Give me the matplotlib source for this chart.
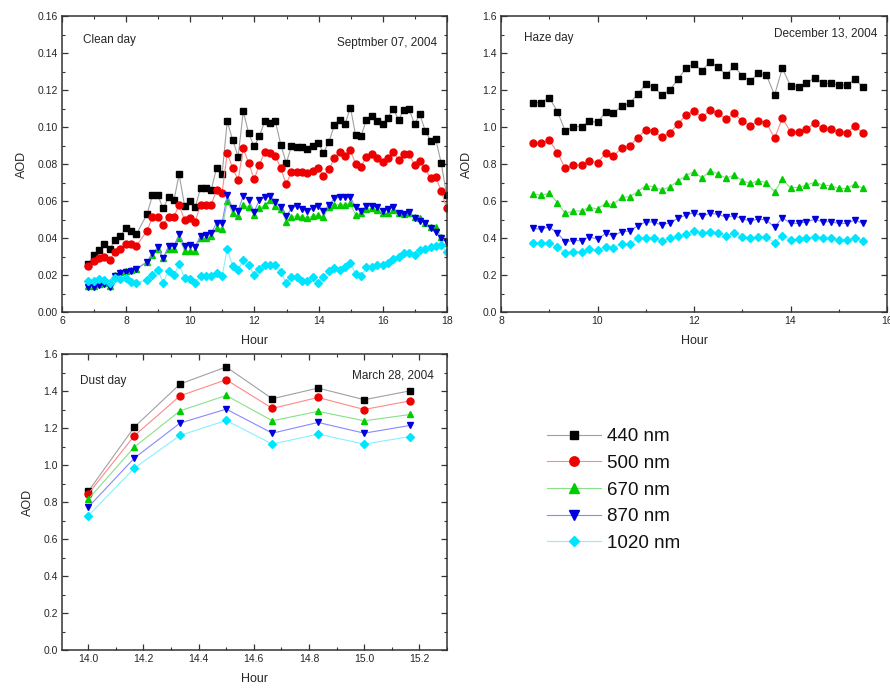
import matplotlib
matplotlib.use("Agg")
import matplotlib.pyplot as plt
from matplotlib.ticker import MultipleLocator, FormatStrFormatter

plt.rcParams['font.family'] = ['Liberation Sans', 'DejaVu Sans']

wavelengths = ['440 nm', '500 nm', '670 nm', '870 nm', '1020 nm']

# ---- Clean day (Sept 07, 2004) ----
clean_hours = [6.82, 6.99, 7.15, 7.32, 7.49, 7.65, 7.82, 7.99, 8.15, 8.32,
               8.65, 8.82, 8.99, 9.15, 9.32, 9.49, 9.65, 9.82, 9.99, 10.15,
               10.32, 10.49, 10.65, 10.82, 10.99, 11.15, 11.32, 11.49, 11.65, 11.82,
               11.99, 12.15, 12.32, 12.49, 12.65, 12.82, 12.99, 13.15, 13.32, 13.49,
               13.65, 13.82, 13.99, 14.15, 14.32, 14.49, 14.65, 14.82, 14.99, 15.15,
               15.32, 15.49, 15.65, 15.82, 15.99, 16.15, 16.32, 16.49, 16.65, 16.82,
               16.99, 17.15, 17.32, 17.49, 17.65, 17.82, 17.99]
clean_440 = [0.026, 0.031, 0.0335, 0.037, 0.034, 0.039, 0.041, 0.0455, 0.044, 0.042,
             0.053, 0.063, 0.063, 0.056, 0.062, 0.0605, 0.0745, 0.0575, 0.060, 0.0565,
             0.067, 0.067, 0.066, 0.078, 0.0745, 0.103, 0.093, 0.084, 0.1085, 0.0965,
             0.0895, 0.095, 0.103, 0.102, 0.103, 0.0905, 0.0805, 0.0895, 0.089, 0.089,
             0.088, 0.090, 0.0915, 0.086, 0.092, 0.101, 0.104, 0.1015, 0.1105, 0.0957,
             0.095, 0.104, 0.106, 0.103, 0.1015, 0.1047, 0.110, 0.104, 0.109, 0.1095,
             0.1015, 0.107, 0.098, 0.0926, 0.0933, 0.0805, 0.063]
clean_500 = [0.025, 0.0277, 0.029, 0.030, 0.028, 0.0326, 0.0339, 0.037, 0.037, 0.0357,
             0.044, 0.0512, 0.0512, 0.047, 0.0515, 0.0515, 0.058, 0.0497, 0.0506, 0.0488,
             0.0578, 0.0578, 0.058, 0.066, 0.0645, 0.0858, 0.0777, 0.0714, 0.0885, 0.0804,
             0.0717, 0.0795, 0.0867, 0.0858, 0.0845, 0.0777, 0.069, 0.0759, 0.0759, 0.0755,
             0.075, 0.0764, 0.0777, 0.0735, 0.0771, 0.0831, 0.0867, 0.0843, 0.0876, 0.080,
             0.0786, 0.084, 0.0852, 0.083, 0.0813, 0.083, 0.0867, 0.0822, 0.0852, 0.0852,
             0.0795, 0.0816, 0.0777, 0.0723, 0.0728, 0.0654, 0.056]
clean_670 = [0.014, 0.0138, 0.015, 0.0155, 0.014, 0.020, 0.0215, 0.022, 0.0225, 0.0235,
             0.027, 0.031, 0.034, 0.029, 0.034, 0.034, 0.040, 0.033, 0.033, 0.033,
             0.040, 0.040, 0.041, 0.0455, 0.045, 0.060, 0.0533, 0.0519, 0.0578, 0.0566,
             0.0524, 0.056, 0.0578, 0.0605, 0.0573, 0.0555, 0.0488, 0.0515, 0.052, 0.0515,
             0.0506, 0.052, 0.0525, 0.0512, 0.0568, 0.058, 0.058, 0.058, 0.0587, 0.0524,
             0.0533, 0.0555, 0.056, 0.0551, 0.0537, 0.0533, 0.0551, 0.0537, 0.053, 0.0537,
             0.0515, 0.0506, 0.0483, 0.0458, 0.0461, 0.0407, 0.0371]
clean_870 = [0.0137, 0.0133, 0.0146, 0.015, 0.0133, 0.0195, 0.0209, 0.0218, 0.0222, 0.023,
             0.0272, 0.0317, 0.035, 0.029, 0.0357, 0.0357, 0.042, 0.0357, 0.0362, 0.0353,
             0.0413, 0.0416, 0.0425, 0.0483, 0.0483, 0.0632, 0.056, 0.0548, 0.0627, 0.0605,
             0.0542, 0.0605, 0.062, 0.0627, 0.0596, 0.0566, 0.0519, 0.056, 0.0575, 0.0555,
             0.0545, 0.056, 0.0573, 0.0544, 0.058, 0.0614, 0.062, 0.062, 0.062, 0.0566,
             0.0548, 0.0573, 0.0573, 0.0566, 0.0548, 0.0555, 0.0566, 0.0533, 0.053, 0.0542,
             0.0506, 0.0493, 0.0483, 0.0452, 0.0434, 0.0398, 0.038]
clean_1020 = [0.0169, 0.0169, 0.0177, 0.0173, 0.0159, 0.0182, 0.0177, 0.0182, 0.0164, 0.0159,
              0.0173, 0.020, 0.0227, 0.0159, 0.0222, 0.020, 0.026, 0.0182, 0.0177, 0.0159,
              0.0195, 0.0195, 0.0195, 0.0213, 0.0195, 0.0339, 0.0249, 0.0227, 0.0281, 0.0254,
              0.020, 0.023, 0.0254, 0.0254, 0.0254, 0.0218, 0.0155, 0.0191, 0.0191, 0.0169,
              0.0168, 0.0191, 0.0155, 0.0191, 0.0223, 0.0236, 0.0227, 0.0245, 0.0263, 0.0205,
              0.0195, 0.0241, 0.0245, 0.0254, 0.0255, 0.0265, 0.0285, 0.030, 0.0317, 0.032,
              0.031, 0.0335, 0.034, 0.0353, 0.0355, 0.036, 0.0326]

# ---- Haze day (Dec 13, 2004) ----
haze_hours = [8.67, 8.83, 9.00, 9.17, 9.33, 9.50, 9.67, 9.83, 10.00, 10.17,
              10.33, 10.50, 10.67, 10.83, 11.00, 11.17, 11.33, 11.50, 11.67, 11.83,
              12.00, 12.17, 12.33, 12.50, 12.67, 12.83, 13.00, 13.17, 13.33, 13.50,
              13.67, 13.83, 14.00, 14.17, 14.33, 14.50, 14.67, 14.83, 15.00, 15.17,
              15.33, 15.50]
haze_440 = [1.132, 1.132, 1.159, 1.083, 0.978, 1.002, 1.002, 1.032, 1.025, 1.083,
            1.074, 1.114, 1.128, 1.178, 1.231, 1.218, 1.173, 1.200, 1.258, 1.317,
            1.341, 1.305, 1.353, 1.323, 1.281, 1.330, 1.276, 1.249, 1.290, 1.281,
            1.173, 1.317, 1.223, 1.218, 1.236, 1.267, 1.236, 1.236, 1.227, 1.227,
            1.258, 1.218]
haze_500 = [0.912, 0.912, 0.930, 0.861, 0.777, 0.795, 0.795, 0.816, 0.807, 0.858,
            0.845, 0.885, 0.897, 0.942, 0.984, 0.978, 0.944, 0.969, 1.016, 1.065,
            1.086, 1.052, 1.092, 1.074, 1.043, 1.074, 1.032, 1.005, 1.034, 1.023,
            0.939, 1.047, 0.975, 0.975, 0.989, 1.020, 0.993, 0.989, 0.975, 0.969,
            1.005, 0.969]
haze_670 = [0.638, 0.632, 0.641, 0.591, 0.533, 0.546, 0.546, 0.566, 0.557, 0.587,
            0.582, 0.620, 0.623, 0.650, 0.683, 0.677, 0.659, 0.677, 0.708, 0.737,
            0.759, 0.723, 0.764, 0.746, 0.723, 0.741, 0.710, 0.695, 0.710, 0.699,
            0.650, 0.717, 0.672, 0.674, 0.686, 0.701, 0.686, 0.683, 0.668, 0.668,
            0.692, 0.668]
haze_870 = [0.452, 0.447, 0.461, 0.425, 0.380, 0.386, 0.386, 0.407, 0.393, 0.425,
            0.413, 0.434, 0.438, 0.465, 0.488, 0.485, 0.470, 0.483, 0.506, 0.524,
            0.537, 0.519, 0.533, 0.528, 0.512, 0.521, 0.503, 0.492, 0.503, 0.497,
            0.458, 0.510, 0.479, 0.479, 0.488, 0.501, 0.488, 0.488, 0.479, 0.479,
            0.497, 0.479]
haze_1020 = [0.371, 0.371, 0.375, 0.350, 0.321, 0.326, 0.326, 0.339, 0.335, 0.353,
             0.348, 0.366, 0.366, 0.398, 0.402, 0.402, 0.384, 0.398, 0.411, 0.422,
             0.438, 0.425, 0.434, 0.429, 0.413, 0.425, 0.407, 0.402, 0.404, 0.404,
             0.375, 0.413, 0.389, 0.393, 0.398, 0.407, 0.398, 0.398, 0.389, 0.389,
             0.398, 0.386]

# ---- Dust day (Mar 28, 2004) ----
dust_hours = [14.0, 14.167, 14.333, 14.5, 14.667, 14.833, 15.0, 15.167]
dust_440 = [0.857, 1.205, 1.438, 1.530, 1.358, 1.416, 1.353, 1.401]
dust_500 = [0.844, 1.158, 1.374, 1.461, 1.306, 1.365, 1.300, 1.347]
dust_670 = [0.815, 1.097, 1.293, 1.376, 1.239, 1.290, 1.239, 1.273]
dust_870 = [0.772, 1.037, 1.227, 1.302, 1.172, 1.230, 1.172, 1.214]
dust_1020 = [0.725, 0.983, 1.160, 1.241, 1.113, 1.167, 1.113, 1.154]

marker_colors = ['#000000', '#ee0000', '#00cc00', '#0000dd', '#00e5ff']
line_colors = ['#a0a0a0', '#ff8888', '#88e088', '#8888ff', '#88f0ff']
markers = ['s', 'o', '^', 'v', 'D']
msizes = [4.4, 5.0, 5.0, 5.0, 3.9]

TXT = '#262626'

fig = plt.figure(figsize=(8.9, 6.9), dpi=100)
ax1 = fig.add_axes([62/890, 1-312/690, 385/890, 296/690])
ax2 = fig.add_axes([501/890, 1-312/690, 386/890, 296/690])
ax3 = fig.add_axes([62/890, 1-650/690, 385/890, 296/690])

def draw(ax, hours, series):
    handles = []
    for s, mc, lc, mk, ms, lab in zip(series, marker_colors, line_colors, markers, msizes, wavelengths):
        h, = ax.plot(hours, s, color=lc, lw=0.8, marker=mk, ms=ms,
                     mfc=mc, mec=mc, label=lab)
        handles.append(h)
    return handles

def style(ax, xlim, ylim, xmaj, xmin, ymaj, ymin, xfmt, yfmt):
    ax.set_xlim(*xlim)
    ax.set_ylim(*ylim)
    ax.xaxis.set_major_locator(MultipleLocator(xmaj))
    ax.xaxis.set_minor_locator(MultipleLocator(xmin))
    ax.yaxis.set_major_locator(MultipleLocator(ymaj))
    ax.yaxis.set_minor_locator(MultipleLocator(ymin))
    ax.xaxis.set_major_formatter(FormatStrFormatter(xfmt))
    ax.yaxis.set_major_formatter(FormatStrFormatter(yfmt))
    ax.tick_params(which='both', direction='in', top=True, right=True,
                   colors='#333333', labelsize=7.5, labelcolor=TXT, pad=3)
    ax.tick_params(which='major', length=4, width=0.9)
    ax.tick_params(which='minor', length=2.2, width=0.8)
    for sp in ax.spines.values():
        sp.set_linewidth(1.1)
        sp.set_color('#333333')
    ax.set_xlabel('Hour', fontsize=9, color=TXT, labelpad=6)
    ax.set_ylabel('AOD', fontsize=9, color=TXT, labelpad=7)

draw(ax1, clean_hours, [clean_440, clean_500, clean_670, clean_870, clean_1020])
style(ax1, (6, 18), (0, 0.16), 2, 1, 0.02, 0.01, '%d', '%.2f')
ax1.text(0.055, 0.92, 'Clean day', transform=ax1.transAxes, fontsize=8.5, color=TXT, va='center')
ax1.text(0.974, 0.91, 'Septmber 07, 2004', transform=ax1.transAxes, fontsize=8.5, color=TXT,
         va='center', ha='right')

draw(ax2, haze_hours, [haze_440, haze_500, haze_670, haze_870, haze_1020])
style(ax2, (8, 16), (0, 1.6), 2, 1, 0.2, 0.1, '%d', '%.1f')
ax2.text(0.06, 0.925, 'Haze day', transform=ax2.transAxes, fontsize=8.5, color=TXT, va='center')
ax2.text(0.974, 0.94, 'December 13, 2004', transform=ax2.transAxes, fontsize=8.5, color=TXT,
         va='center', ha='right')

handles = draw(ax3, dust_hours, [dust_440, dust_500, dust_670, dust_870, dust_1020])
style(ax3, (13.905, 15.3), (0, 1.6), 0.2, 0.1, 0.2, 0.1, '%.1f', '%.1f')
ax3.text(0.047, 0.909, 'Dust day', transform=ax3.transAxes, fontsize=8.5, color=TXT, va='center')
ax3.text(0.966, 0.929, 'March 28, 2004', transform=ax3.transAxes, fontsize=8.5, color=TXT,
         va='center', ha='right')

leg = fig.legend(handles=handles, loc='upper left', bbox_to_anchor=(547/890, 1-428/690),
                 frameon=False, fontsize=13.5, handlelength=2.9, handletextpad=0.3,
                 labelspacing=0.51, borderaxespad=0, borderpad=0)
for t in leg.get_texts():
    t.set_color('#111111')
for lh in leg.legend_handles:
    lh.set_markersize(lh.get_markersize() * 1.35)

fig.savefig('out.png', dpi=100)
